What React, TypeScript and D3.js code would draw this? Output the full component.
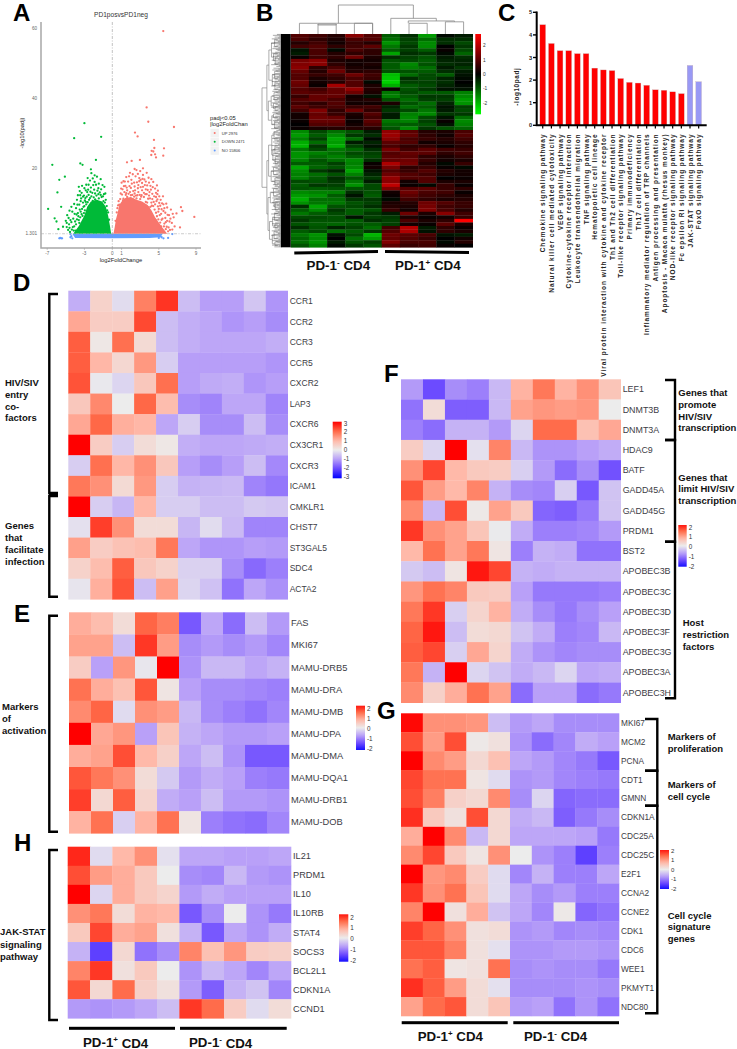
import React from "react";
import * as d3 from "d3";

const SANS = "'Liberation Sans', Arial, sans-serif";

// ---------- Panel A: volcano ----------
const volcanoXTicks = [-7, -3, 0, 1, 5, 9];
const volcanoYTicks = [60, 40, 20, 1.301];
const upEnvelope = [[0.12,1.3],[0.25,3],[0.4,5.5],[0.6,7.5],[0.75,9.5],[1,10.5],[1.4,11.5],[2,11.8],[2.6,11],[3.2,10.5],[3.8,9.5],[4.2,8],[4.6,6],[5,4.5],[5.4,3],[5.9,1.3]];
const downEnvelope = [[-0.12,1.3],[-0.25,3.5],[-0.45,6.5],[-0.7,9],[-1.1,10.5],[-1.7,11],[-2.3,10.5],[-2.7,9],[-3,6.5],[-3.3,5],[-3.6,3.5],[-4.2,1.3]];
const noEnvelope = [[-4.3,1.3],[-4,0.1],[0,0],[4,0.1],[5.2,0.3],[5.4,1.3]];
const upPoints = [[5.48,59.2],[3.69,37.4],[3.87,33.3],[6.63,31.8],[2.44,30.2],[2.72,29.1],[4.48,28.1],[4.52,25.8],[4.23,25],[4.41,24.8],[5.56,25.7],[4.6,24],[4.19,23.8],[5.48,23.6],[4.7,23.1],[2.97,22.4],[2.08,22.1],[1.58,21.7],[8.82,6.1],[7.28,3.1],[7.38,8.9],[7.53,7.8],[6.9,7.1],[6.6,6],[6.3,8.2],[6.1,6.6],[6.4,4.4],[6.7,3.4],[6.05,3.1],[5.9,5],[5.7,7.3],[5.5,9.7],[5.3,8.3],[5.1,6.6],[5.9,8.8],[5.2,11],[5.45,12],[4.9,13.6],[4.7,11.8],[4.6,9.7],[4.3,12.7],[4.1,15],[4.4,16.1],[3.9,17.3],[3.7,18.7],[3.3,20],[3.0,19.2],[2.6,19.5],[2.4,19.8],[2.2,18.3],[1.9,18.7],[1.5,17.5],[1.2,16.3],[1.0,15.9],[0.95,14.2],[1.4,15],[1.7,16.2],[2.05,16.7],[2.5,17.7],[2.9,17.2],[3.3,18.1],[3.6,16.2],[3.2,15.8],[2.8,15.2],[2.4,14.8],[2,14.4],[1.6,13.7],[1.3,13.2],[1.05,12.5],[0.85,11.2],[0.75,9.6],[1.2,11.3],[1.6,11.8],[2,12.3],[2.4,12.8],[2.8,13.2],[3.2,13.7],[3.6,14],[4,13.2],[4.35,14.6],[4.8,15.1],[3.85,11.3],[3.4,11.8],[3,11.2],[2.6,11.4],[2.2,11.1],[1.8,10.9],[4.2,10.2],[4.55,8.2],[4.9,9.1],[5.15,4.5],[5.4,5.6],[5.6,4.2],[5.75,2.6],[4.95,7.6],[4.35,6.2],[3.9,8.8],[3.6,10.4],[3.2,9.9],[2.9,16.3],[3.5,15.2],[1.85,14.9],[2.25,13.5],[2.65,16],[1.45,12.4],[3.95,15.9],[4.7,13],[5.05,10.1],[5.7,5.8],[6.2,2.4],[6.45,2.5],
[0.55,8.6],[0.68,10.6],[0.9,12.8],[1.1,14],[1.25,14.9],[1.5,12.9],[1.55,14.5],[1.75,12.7],[1.9,13.2],[2.1,15.6],[2.15,12.4],[2.35,15.9],[2.45,13.7],[2.55,12.2],[2.75,14.3],[2.7,12.3],[2.95,12.4],[3.05,14.6],[3.15,12.3],[3.3,14.7],[3.4,13],[3.45,16.8],[3.55,12.6],[3.75,15.1],[3.7,12.6],[3.8,13.8],[3.95,12.2],[4.05,11.4],[4.15,13.9],[4.2,16.9],[4.3,11.2],[4.45,10.4],[4.5,12],[4.6,14.2],[4.75,10.6],[4.4,9.2],[4.25,9.3],[4.7,7.3],[4.85,11.1],[4.8,6.3],[5,8.4],[5.05,12],[5.15,9.3],[5.25,7],[5.3,5.3],[5.35,10],[5.5,7.8],[5.55,3.4],[5.6,8.6],[5.75,4.6],[5.8,9.9],[5.85,3.3],[5.95,6.7],[6,2],[6.15,4.8],[6.25,5.6],[6.5,7],[5.25,3.4],[4.95,5.4],[4.65,5.2],[5.05,3.2],[4.1,9],[3.75,10.2],[2.35,11.9],[1.15,10.8],[3.1,11.9],[3.25,17],[4.85,12.6],[1.35,16.2],[1.8,17.7],[2.75,18.4],[3.05,16.7],[0.62,9.4],[0.48,7.4],[0.35,5]];
const downPoints = [[-6.9,8.4],[-6.45,21],[-5.7,16.7],[-5.1,17.6],[-5.9,13.1],[-5.5,9],[-3,32.9],[-4.1,28.6],[-1.2,29],[-3.44,21.4],[-3.2,21],[-1.76,22.4],[-2.3,19.7],[-6.2,5.7],[-6,4.8],[-5.8,2.6],[-5.3,3.3],[-4.4,9],[-4.6,7.9],[-3.8,11],[-5,5],[-4.9,3.2],[-4.6,3],[-4.4,4.6],[-4.7,5.8],[-4.2,5.6],[-4.05,7],[-3.9,8.6],[-3.7,7.2],[-3.55,9.6],[-3.4,7.6],[-3.35,11.4],[-3.7,12.3],[-3.5,13.5],[-3.6,14.7],[-3.25,15],[-3.3,13],[-3.05,12.2],[-3,14.3],[-2.9,11.5],[-2.8,15.3],[-2.7,13.2],[-2.65,17.2],[-2.4,16.5],[-2.25,18.6],[-2.1,17.1],[-2.05,15.2],[-2.3,14.5],[-2.55,12.4],[-2.4,11.5],[-2.15,13],[-1.9,18],[-1.65,17.6],[-1.45,15.6],[-1.75,15.3],[-1.95,13.9],[-1.6,13.6],[-1.35,13.1],[-1.15,11.8],[-1.05,15.2],[-0.85,14.7],[-1.25,16.9],[-0.7,11],[-0.95,10.6],[-1.45,11.4],[-1.85,11.1],[-2.1,10.7],[-3,9.2],[-3.2,6.4],[-3.55,4.4],[-3.9,4],[-4.25,3.2],[-4.15,2.2],[-4.55,1.8],[-3.95,2.2],[-4.9,4.4],[-4.1,9.8],[-2.65,10.3],[-2.8,9.7],[-3.15,10.2],[-1.65,10.7],[-0.6,9.2],
[-0.55,8],[-0.8,10.2],[-0.9,12.6],[-1,12],[-1.25,12.4],[-1.5,12.6],[-1.7,12.2],[-1.85,12.8],[-2,11.7],[-2.25,12],[-2.5,11],[-2.6,13.9],[-2.75,11.9],[-2.85,10.4],[-2.95,8],[-3.05,7.2],[-3.1,9],[-3.25,8.4],[-3.3,6.9],[-3.45,6],[-3.5,8.2],[-3.6,5.2],[-3.65,6.3],[-3.8,5.4],[-3.85,6.8],[-4,4.8],[-4.1,3.4],[-4.3,7.6],[-4.35,2.5],[-4.5,5.2],[-4.65,4],[-4.75,2.4],[-4.85,6.6],[-3.75,9.6],[-3.4,10.6],[-2.95,10.8],[-2.35,13.3],[-1.5,14.3],[-1.2,14],[-0.75,12.8],[-2.55,15.3],[-1.9,16.1],[-3.15,11.9],[-3.45,12.3],[-2.85,13.7],[-0.45,7.4],[-0.35,5.3]];
const noPoints = [[-5.7,0],[-5.5,0],[-5.4,0],[-5.6,0.1],[5,0.1],[5.3,0.3],[5.5,0],[6,0.1],[6.45,1.2],[-4.5,1.2],[-4.4,0.6],[-4.5,0.3],[-4.3,0]];
const volcanoLegend = [["UP 2976", "#f8766d"], ["DOWN 2471", "#00ba38"], ["NO 15806", "#619cff"]];

// ---------- Panel B: clustered heatmap ----------
const clusterUpRows = [
[.9,.7,.4,1.5,.9,-1,-.5,-1.7,-.1,-.3],[.8,.5,.3,.8,.9,-1.2,-.7,-1.2,-.5,-.5],[.4,.7,.2,.6,.4,-1.6,-.8,-1.5,-.5,-.8],[.7,.9,.5,.7,1,-1.3,-.6,-1.5,0,-.6],[-.2,.8,-.1,.8,.5,-1,-.7,-1,.1,-.8],[-.3,.8,.4,.5,.5,-1.8,-.5,-.6,-.1,-1.1],[.1,.7,.5,1.2,.3,-.5,-.7,-.9,-.3,-.5],[1.3,1.5,.3,.2,.2,-.9,-.8,-1,-.4,-.4],[1.4,1.5,.5,.2,.3,-1,-1.5,-.9,-.5,-.4],[1.5,.5,.8,.3,.2,-1,-1.4,-1.2,-.3,-.6],[1.1,.4,1.2,.4,.5,-.9,-.9,-1,-.5,-.3],[.9,.6,.7,1.2,.7,-2.1,-1.2,-.8,-1,-.2],[.9,.3,.5,.8,.6,-2.2,-.5,-.8,-.4,-.1],[1.2,.2,.4,.9,-.1,-2.3,-.7,-.7,-.5,0],[1.1,.1,1.8,.9,.3,-1.9,-1,-.8,-.4,-.1],[.9,.7,1.1,1.6,.4,.1,-.9,-.6,-.2,-.2],[1,.9,1.1,1.2,.3,-1.3,-.8,-1,-1,-1.4],[.6,1.1,1.1,.2,-.2,-1.4,-1,-.6,-.6,-1.5],[.9,1.1,.8,.3,.4,-.9,-1.2,-.7,-.7,-1.7],[.7,.5,.9,.2,.2,.3,-.9,-1.2,-.4,-1.6],[1,.7,.8,.6,.7,-.4,-1.2,-1,-.2,-.7],[.7,1.4,.5,1.2,.5,-.6,-.8,-1.3,-.3,-.8],[.2,1.1,.6,.3,.9,-.3,-1.4,-1.5,-.6,-.6],[.2,1.2,1.1,.2,.7,-.3,-1.5,-.8,-.2,-1.2],[.1,1.1,1.1,.1,1,-1.3,-1.4,-.7,.1,-1.5],[0,.9,.9,.2,.8,-1.1,-1,-.9,-.2,-1.4],[.1,.3,.4,.4,.4,-.9,-1.5,-.6,-.9,-1.1]];
const clusterDownRows = [
[-1.5,-.8,-1.2,-.9,-.3,1.6,1,.4,.3,.8],[-1.7,-1,-1.5,-.6,-.5,1.7,1.1,.5,.2,.9],[-1.4,-.7,-1.8,-1.2,-.1,1.5,.8,.6,.4,.7],[-1.9,-1.2,-1.7,-.3,-.4,1,.9,.2,.3,.5],[-2,-.6,-1.9,-.7,-.2,.8,.5,.5,.1,.4],[-1.3,-.8,-1.3,-1.1,-.5,1.3,.7,1,.7,.6],[-1.6,-1.4,-1.2,-.8,-.7,.9,1.1,1,.5,.7],[-1.6,-1.2,-1.4,-1,-.8,1,1,.5,.3,.5],[-1.4,-.9,-1.2,-1.5,-.5,1.1,1.2,.6,.2,.3],[-1,-1,-.7,-1.4,.1,1.9,1.3,.4,-.1,.6],[-1.8,-1.1,-.9,-1.5,.2,1.3,.5,.6,.1,-.1],[-1.5,-.6,-.4,-1.8,-.2,.9,.6,.9,.4,.2],[-1.4,-1.2,-.9,-1.4,-.4,1.2,.9,.7,.3,.2],[-1.4,-1,-.5,-.9,-.6,1.6,.9,.9,0,.1],[-.8,-.9,-.6,-1.3,-.3,1.5,.2,.9,.3,.3],[-1,-.6,-.7,-1.6,-.8,2.1,.1,-.1,.6,.1],[-.9,-1,-.9,-.9,-.8,1.4,.9,1,.6,.5],[-1.5,-1.4,-1.4,-.5,-.9,.2,1.2,.8,.7,.1],[-1.7,-1.6,-1,-.2,-1,.1,1,.7,.5,.3],[-1.9,-1.2,-1.2,-.6,-.6,-.1,.7,.5,.3,.4],[-1.6,-1.3,-1.3,-.9,-.7,.3,.4,1.2,.9,.6],[-.5,-1.8,-.9,-.8,-.5,.4,.3,1.3,.7,.6],[-1,-1.5,-.6,-1,-.9,.6,.2,1.4,.8,.4],[-1.3,-1,-.8,-1,-.6,-.3,1.2,.3,1.5,.7],[-.8,-.8,-.9,-.2,-.7,-.6,.3,.1,.2,.6],[-.6,-.9,-.9,-1,-.5,-.7,.8,.3,.5,2.8],[-.9,-1,-1.1,-.9,-1,-.7,.2,.1,1,.3],[-.5,-.9,-.4,-.7,-1.2,.7,2,-.3,.5,.1],[-1,-.8,-1.2,-1,-.6,.9,1.9,-.2,.5,.3],[-1.3,-1.6,-.2,-.8,-2,1.2,1,.8,-.2,-.3],[-1.1,-1.5,0,-1.2,-1.7,1.1,.9,.6,0,.2],[-1.2,-1.6,-.3,-.9,-.7,1.4,.8,.8,-.1,.4],[-.9,-1.4,-.1,-.6,-.9,1,.6,.7,.1,0]];
const clusterTicks = [2, 1, 0, -1, -2];
// [left column, right column, height, left child height, right child height]
const columnMerges = [[2.62,6.74,1,.37,.54],[.48,4.5,.37,0,0],[1.5,2.5,.34,0,0],[3.5,4.5,.37,0,0],[1.5,2.5,.31,.34,.34],[5.5,8,.54,0,.45],[6.46,9,.45,.37,.42],[6.5,7.5,.37,0,0],[8.5,9.5,.42,0,0]];
// nested row tree: [depth, ...children]; a bare number is a row
const rowTree: any = [0,
  [.17,
    [.24,[.33,[.44,1,3],[.4,5,[.46,6,8]]],[.36,[.44,10,12],[.45,13,15]]],
    [.22,[.32,[.42,16,18],[.4,19,[.46,20,21]]],[.34,[.4,22,23],[.44,24,26]]]],
  [.17,
    [.23,[.34,[.42,27,29],[.38,[.45,31,33],[.46,34,36]]],[.32,[.4,37,39],[.45,40,42]]],
    [.21,[.29,[.4,43,45],[.42,46,[.46,47,49]]],[.26,[.37,[.44,50,52],[.45,53,54]],[.36,[.42,55,57],[.45,58,59]]]]]];
const leafDepths = [.52,.38,.6,.44,.56,.34,.61,.47,.55,.42,.32,.58,.5,.63,.4,.57,.36,.48,.54,.62,.46,.35,.59,.43];

// ---------- Panel C: bars ----------
const pathwayNames = ["Chemokine signaling pathway","Natural killer cell mediated cytotoxicity","VEGF signaling pathway","Cytokine-cytokine receptor interaction","Leukocyte transendothelial migration","TNF signaling pathway","Hematopoietic cell lineage","Viral protein interaction with cytokine and cytokine receptor","Th1 and Th2 cell differentiation","Toll-like receptor signaling pathway","Primary immunodeficiency","Th17 cell differentiation","Inflammatory mediator regulation of TRP channels","Antigen processing and presentation","Apoptosis - Macaca mulatta (rhesus monkey)","NOD-like receptor signaling pathway","Fc epsilon RI signaling pathway","JAK-STAT signaling pathway","FoxO signaling pathway"];
const pathwayValues = [4.45,3.62,3.3,3.3,3.17,3.17,2.53,2.45,2.42,2.07,1.9,1.87,1.77,1.57,1.55,1.48,1.4,2.65,1.93];
const pathwayIsDown = [0,0,0,0,0,0,0,0,0,0,0,0,0,0,0,0,0,1,1];
const pathwayTicks = [0,1,2,3,4,5];

// ---------- Gene heatmaps ----------
const genesD = ["CCR1","CCR2","CCR3","CCR5","CXCR2","LAP3","CXCR6","CX3CR1","CXCR3","ICAM1","CMKLR1","CHST7","ST3GAL5","SDC4","ACTA2"];
const valuesD = [
[-.8,.5,-.2,1.7,2.5,-.6,-1,-1,-.5,-1.1],[1.2,.6,.6,2.3,-.6,-.8,-.9,-1.1,-1,-1.2],[2.1,.1,1.9,.35,-.6,-.8,-.9,-.9,-.9,-.8],[2.1,1,.4,1.4,-.4,-1,-1,-1,-1,-1.1],[2.2,-.05,-.3,.7,1.9,-1,-.85,-.8,-1.1,-1],[.7,1.6,0,2,.9,-1.2,-1.3,-.9,-.9,-1.3],[1.2,2,1.1,1,-.9,-.4,-1.2,-1.2,-.6,-1.2],[3,.6,-.4,.3,.1,-.8,-.9,-.9,-.85,-.8],[-.4,1.9,1,1.5,.7,-1,-1.2,-1,-.6,-1.25],[1.8,1.5,.35,1.4,-.4,-.75,-.7,-.65,-1.3,-1.45],[3,-.4,-.7,1,-.4,-.4,-.6,-.6,-.45,-.5],[-.15,2.4,1.5,.3,.3,-.7,-.2,-.65,-1.3,-1.3],[1.3,.6,.8,.9,1.8,-.9,-1.1,-1.1,-1,-1.05],[.5,.9,2.1,.7,.5,-.35,-.35,-1.2,-1.6,-1.35],[-.1,1.1,2.2,-.6,1.3,-.3,-.55,-1.5,-.9,-1.15]];
const genesE = ["FAS","MKI67","MAMU-DRB5","MAMU-DRA","MAMU-DMB","MAMU-DPA","MAMU-DMA","MAMU-DQA1","MAMU-DRB1","MAMU-DOB"];
const valuesE = [
[.75,.6,.2,1.35,1.15,-1.2,-.6,-1.05,-.4,-.7],[.85,.85,-.4,1.65,.9,-.8,-.7,-.8,-.7,-.85],[.4,-.65,.95,-.05,2,-.75,-.45,-.45,-.6,-.5],[1.25,.75,.55,1.45,.1,-.65,-.8,-.8,-.85,-.9],[1.05,1.35,-.15,1,.9,-.45,-.8,-.9,-1,-.85],[2,.8,.95,-.65,.5,-.5,-.6,-.7,-.7,-.65],[.75,.85,1.5,.65,.35,-.6,-.4,-.75,-1.2,-1.2],[1.45,1.2,1,.2,-.3,-.7,-.55,-.65,-.9,-.95],[1.6,.25,1.4,.3,-.55,-.65,-.4,-.7,-.7,-.75],[.7,1.25,-.25,.7,1.25,.1,-.9,-1,-1.05,-.85]];
const genesH = ["IL21","PRDM1","IL10","IL10RB","STAT4","SOCS3","BCL2L1","CDKN1A","CCND1"];
const valuesH = [
[1.75,-.15,.65,1,-.1,-.6,-.6,-.65,-.65,-.6],[1.5,.9,.75,.45,0,-.8,-.85,-.45,-.7,-.75],[2,-.2,.75,.45,.3,-.7,-.55,-.65,-.65,-.65],[1,1.2,.2,.7,.65,-1.2,-.8,0,-.75,-.95],[.45,1.55,.75,.85,.15,-.5,-1.2,-.6,-.75,-.55],[-.5,-1.4,.25,-1,-.8,1.1,.55,.95,.4,.35],[1.1,1.65,.15,.45,0,-.75,-.45,-.6,-.85,-.6],[1.45,.25,1.3,.35,.15,-.7,-1.15,-.5,-.35,-.85],[-.7,-.75,-.7,-.6,-.4,1.65,1.3,.4,-.15,.2]];
const genesF = ["LEF1","DNMT3B","DNMT3A","HDAC9","BATF","GADD45A","GADD45G","PRDM1","BST2","APOBEC3B","APOBEC3C","APOBEC3D","APOBEC3F","APOBEC3G","APOBEC3A","APOBEC3H"];
const valuesF = [
[-.7,-1.3,-.8,-.9,-.45,.7,1.2,.7,1,.5],[-1,.2,-1.15,-1.15,-.45,.85,.95,.9,.95,0],[-.9,-1.05,-.5,-.5,-.7,-.2,1.3,1.3,.55,.8],[.4,-.2,2,-.1,1.1,-.45,-.75,-.75,-.65,-.55],[1,1.55,.65,.45,.4,-.25,-.7,-1.05,-.8,-1.25],[1.45,.9,.65,1.1,-.5,-.8,-.85,-.25,-1.2,-.35],[1.05,-.45,1.5,.05,.85,.45,-1.1,-1.15,-.95,-.35],[1.65,1,.85,.5,-.02,-.55,-.9,-.9,-.85,-.7],[.65,1.25,.85,1.2,.1,-.9,-.5,-.55,-1,-1],[-.3,-.4,.1,1.85,1.55,-.5,-.55,-.5,-.5,-.5],[.95,1.25,1.1,.45,.4,-.65,-.95,-.95,-.95,-.9],[1.2,1.65,-.25,.3,.7,-.55,-.8,-.95,-.8,-.65],[1.35,1.85,-.4,.2,.25,-.35,-.55,-.9,-.85,-.45],[1.4,1.55,-.25,.8,.3,-.55,-.75,-.85,-.8,-.8],[1.2,-.5,2,-.2,-.35,-.55,-.45,-.2,-.6,-.55],[1.05,.35,.75,1.25,.85,-1.05,-.65,-.65,-1.05,-.95]];
const genesG = ["MKI67","MCM2","PCNA","CDT1","GMNN","CDKN1A","CDC25A","CDC25C","E2F1","CCNA2","CCNE2","CDK1","CDC6","WEE1","PKMYT1","NDC80"];
const valuesG = [
[1.95,1,1,.95,-.4,-.7,-.6,-.8,-.8,-.8],[1.5,.9,1.5,.05,.15,-.75,-1.05,-.85,-.55,-.65],[2,1.05,.9,.25,.55,-.6,-.7,-.85,-.95,-1.2],[1.55,1.25,1.25,.1,-.15,-.75,-.7,-.85,-.9,-.95],[1.5,1.15,.35,.25,1.05,-.8,-.2,-1.1,-1.05,-1.05],[1.7,.45,.15,1.5,.25,-.55,-.45,-1.15,-.95,-.8],[.75,2,1.05,-.45,.25,-.6,-.6,-.6,-.65,-.95],[1.05,1.55,.45,.1,1,0,-.75,-.9,-1.4,-.9],[2,.95,1.05,.4,-.15,-.85,-.5,-.9,-.9,-.6],[1.65,1,1.25,.5,-.15,-.6,-.8,-.7,-.9,-.9],[1.1,2,.15,.75,-.35,-.6,-.85,.05,-1.1,-1],[1.6,1.35,1,.15,.2,-.75,-.7,-.85,-.8,-.85],[1.45,1.45,1.15,.15,-.1,-.75,-.75,-.7,-.7,-.75],[1.25,1.4,.1,.15,1.25,-.8,-.75,-.8,-.8,-.95],[1.7,1.4,.9,.2,-.1,-.8,-.8,-.8,-.75,-.8],[.85,1.3,1.45,.2,.5,-.7,-.65,-1,-.75,-1]];
const columns = d3.range(10);

const ramp = d3.scaleLinear<string>()
  .domain([-1, -.66, -.33, 0, .33, .66, 1])
  .range(["#0000ff", "#6a48ff", "#b89ff8", "#ececec", "#ffb8a8", "#ff6a48", "#ff0000"])
  .clamp(true);
const greenRed = d3.scaleLinear<string>().domain([-2.8, 0, 2.8]).range(["#00ff00", "#000000", "#ff0000"]).clamp(true);

function t(x: number, y: number, s: string, o: any = {}) {
  return <text x={x} y={y} fontFamily={SANS} dominantBaseline="central" {...o}>{s}</text>;
}

function GeneHeat({ genes, values, box, font, labelDx = 2, range }: any) {
  const [x0, x1, y0, y1] = box;
  const xs = d3.scaleBand<number>().domain(columns).range([x0, x1]);
  const ys = d3.scaleBand<string>().domain(genes).range([y0, y1]);
  return (
    <g>
      {genes.map((g: string, r: number) => (
        <g key={g}>
          {columns.map((c) => (
            <rect key={c} x={xs(c)} y={ys(g)} width={xs.bandwidth() + .3} height={ys.bandwidth() + .3} fill={ramp(values[r][c] / range)} />
          ))}
          {t(x1 + labelDx, ys(g)! + ys.bandwidth() / 2, g, { fontSize: font, fill: "#3c3c44" })}
        </g>
      ))}
    </g>
  );
}

function ColorBar({ id, box, ticks, color, domain, tickRange, font = 6.3, labelDx = 2 }: any) {
  const [x0, x1, y0, y1] = box;
  const sc = d3.scaleLinear().domain(domain).range([y0, y1]);
  const tick = d3.scaleLinear().domain(tickRange[0]).range(tickRange[1]);
  const stops = d3.range(0, 1.001, .05);
  return (
    <g>
      <defs>
        <linearGradient id={id} x1="0" y1="0" x2="0" y2="1">
          {stops.map((s) => <stop key={s} offset={s} stopColor={color(domain[0] + (domain[1] - domain[0]) * s)} />)}
        </linearGradient>
      </defs>
      <rect x={x0} y={sc(domain[0])} width={x1 - x0} height={sc(domain[1]) - sc(domain[0])} fill={`url(#${id})`} />
      {ticks.map((v: number) => <g key={v}>{t(x1 + labelDx, tick(v), String(v), { fontSize: font, fill: "#333" })}</g>)}
    </g>
  );
}

function Bracket({ x0, x1, y0, y1, side = "left" }: any) {
  const d = side === "left" ? `M${x1},${y0}H${x0}V${y1}H${x1}` : `M${x0},${y0}H${x1}V${y1}H${x0}`;
  return <path d={d} fill="none" stroke="#000" strokeWidth={2.4} />;
}

function Lines({ lines, x, y, size = 9.5, weight = "bold" }: any) {
  return <g>{lines.map((s: string, i: number) => <g key={i}>{t(x, y[i], s, { fontSize: size, fontWeight: weight, fill: "#111" })}</g>)}</g>;
}

function PDLabel({ x, y, sign, size = 13.3 }: any) {
  return (
    <text x={x} y={y} fontFamily={SANS} fontSize={size} fontWeight="bold" dominantBaseline="central" fill="#111">
      PD-1<tspan dy={-3.5} fontSize={size * .6}>{sign}</tspan><tspan dy={3.5}> CD4</tspan>
    </text>
  );
}

function Volcano() {
  const xs = d3.scaleLinear().domain([0, 9]).range([112.3, 196]);
  const ys = d3.scaleLinear().domain([0, 60]).range([238.3, 28.3]);
  const line = d3.line<number[]>().x((d) => xs(d[0])).y((d) => ys(d[1]));
  const dots = (pts: number[][], c: string) => pts.map((p, i) => <circle key={i} cx={xs(p[0])} cy={ys(p[1])} r={1.15} fill={c} />);
  return (
    <g>
      <path d={`M41,22V248H201`} fill="none" stroke="#a8a8a8" strokeWidth={1.5} />
      <path d={line(noEnvelope)! + "Z"} fill="#619cff" />
      {dots(noPoints, "#619cff")}
      <path d={line(upEnvelope)! + "Z"} fill="#f8766d" />
      <path d={line(downEnvelope)! + "Z"} fill="#00ba38" />
      {dots(upPoints, "#f8766d")}
      {dots(downPoints, "#00ba38")}
      <line x1={xs(0)} x2={xs(0)} y1={22} y2={248} stroke="#999" strokeWidth={.6} strokeDasharray="3 1.5 1 1.5" />
      <line x1={41} x2={201} y1={ys(1.301)} y2={ys(1.301)} stroke="#aaa" strokeWidth={.6} strokeDasharray="3 1.5 1 1.5" />
      {volcanoXTicks.map((v) => <g key={v}>{t(xs(v), 253.3, String(v), { fontSize: 4.6, textAnchor: "middle", fill: "#666" })}<line x1={xs(v)} x2={xs(v)} y1={248} y2={250} stroke="#999" strokeWidth={.5} /></g>)}
      {volcanoYTicks.map((v) => <g key={v}>{t(37, ys(v), String(v), { fontSize: 4.6, textAnchor: "end", fill: "#666" })}</g>)}
      {t(121, 14.7, "PD1posvsPD1neg", { fontSize: 6.6, textAnchor: "middle", fill: "#333" })}
      {t(121, 259.5, "log2FoldChange", { fontSize: 5.8, textAnchor: "middle", fill: "#222" })}
      <text transform="translate(21.5,133) rotate(-90)" fontFamily={SANS} fontSize={5.8} textAnchor="middle" dominantBaseline="central" fill="#222">-log10(padj)</text>
      {t(210, 117.5, "padj<0.05", { fontSize: 5.8, fill: "#222" })}
      {t(210, 124, "|log2FoldChan", { fontSize: 5.8, fill: "#222" })}
      {volcanoLegend.map(([s, c], i) => {
        const y = 133 + i * 8.8;
        return (
          <g key={s}>
            <rect x={210.5} y={y - 4.2} width={8.4} height={8.4} fill="#f2f2f2" />
            <circle cx={214.7} cy={y} r={1} fill={c} />
            {t(221.7, y, s, { fontSize: 4.1, fill: "#333" })}
          </g>
        );
      })}
    </g>
  );
}

function ClusterHeat() {
  const rows = [...clusterUpRows, ...clusterDownRows];
  const xs = d3.scaleLinear().domain([0, 10]).range([290.7, 472.7]);
  const ys = d3.scaleLinear().domain([0, rows.length]).range([34, 247.3]);
  const dx = d3.scaleLinear().domain([0, 1]).range([262, 290.7]);
  const hy = d3.scaleLinear().domain([0, 1]).range([34, 5]);
  const segments: number[][] = [];
  const walk = (n: any): number => {
    if (typeof n === "number") return n + .5;
    const [depth, ...kids] = n;
    const pos = kids.map((k: any) => {
      const y = walk(k);
      const kd = typeof k === "number" ? .55 : k[0];
      segments.push([depth, y, kd, y]);
      return y;
    });
    segments.push([depth, pos[0], depth, pos[pos.length - 1]]);
    return d3.mean(pos)!;
  };
  walk(rowTree);
  const leaves = d3.range(0, rows.length, .25);
  return (
    <g>
      {rows.map((r, i) => columns.map((c) => (
        <rect key={i + "-" + c} x={xs(c)} y={ys(i)} width={xs(1) - xs(0) + .3} height={ys(1) - ys(0) + .3} fill={greenRed(r[c])} />
      )))}
      {segments.map((s, i) => <line key={i} x1={dx(s[0])} y1={ys(s[1])} x2={dx(s[2])} y2={ys(s[3])} stroke="#8a8a8a" strokeWidth={.7} />)}
      {leaves.map((r, i) => <line key={i} x1={dx(leafDepths[i % leafDepths.length])} x2={dx(.7)} y1={ys(r + .125)} y2={ys(r + .125)} stroke="#444" strokeWidth={.45} />)}
      <rect x={dx(.66)} y={ys(0)} width={dx(1) - dx(.66)} height={ys(rows.length) - ys(0)} fill="#000" />
      {columnMerges.map(([a, b, h, hl, hr], i) => (
        <path key={i} d={`M${xs(a)},${hy(hl)}V${hy(h)}H${xs(b)}V${hy(hr)}`} fill="none" stroke="#8a8a8a" strokeWidth={.8} />
      ))}
      <ColorBar id="grad-b" box={[475.3, 481, 34, 114.3]} ticks={clusterTicks} color={greenRed} domain={[2.8, -2.8]} tickRange={[[2, -2], [45.7, 103.3]]} font={4.8} />
      <path d="M294.3,253L378,251.5" stroke="#000" strokeWidth={3} />
      <path d="M385,251.5L469,252.5" stroke="#000" strokeWidth={3} />
      <PDLabel x={306.5} y={265} sign="-" size={13.4} />
      <PDLabel x={395} y={265} sign="+" size={13.4} />
    </g>
  );
}

function Bars() {
  const xs = d3.scaleBand<number>().domain(d3.range(pathwayValues.length)).range([538.4, 703]).paddingInner(.34).paddingOuter(.17);
  const ys = d3.scaleLinear().domain([0, 5]).range([125.3, 12.3]);
  return (
    <g>
      {pathwayValues.map((v, i) => (
        <rect key={i} x={xs(i)} y={ys(v)} width={xs.bandwidth()} height={ys(0) - ys(v)} fill={pathwayIsDown[i] ? "#9999f5" : "#ff0000"} stroke="#c8b0b0" strokeWidth={.3} />
      ))}
      <path d="M536.7,11.5V125.3H706.7" fill="none" stroke="#000" strokeWidth={2} />
      {pathwayTicks.map((v) => <g key={v}>
        <line x1={533} x2={536.7} y1={ys(v)} y2={ys(v)} stroke="#000" strokeWidth={1.4} />
        {t(532, ys(v), String(v), { fontSize: 5.6, fontWeight: "bold", textAnchor: "end", fill: "#222" })}
      </g>)}
      {pathwayNames.map((n, i) => <g key={n}>
        <line x1={xs(i)! + xs.bandwidth() / 2} x2={xs(i)! + xs.bandwidth() / 2} y1={125.3} y2={128.5} stroke="#000" strokeWidth={1.2} />
        <text transform={`translate(${xs(i)! + xs.bandwidth() / 2},133.5) rotate(-90)`} fontFamily={SANS} fontSize={6.5} fontWeight="bold" letterSpacing={.95} textAnchor="end" dominantBaseline="central" fill="#222">{n}</text>
      </g>)}
      <text transform="translate(516,86.7) rotate(-90)" fontFamily={SANS} fontSize={6.4} fontWeight="bold" letterSpacing={.6} textAnchor="middle" dominantBaseline="central" fill="#222">-log10padj</text>
    </g>
  );
}

const panelLetters = [["A",13,12],["B",256,12.5],["C",498,12],["D",13,282],["E",14,613.5],["H",14,842],["F",384,373.5],["G",377,710]] as const;
const t2 = [2,1,0,-1,-2];
const t3 = [3,2,1,0,-1,-2,-3];

export default function App() {
  return (
    <svg width={737} height={1049} viewBox="0 0 737 1049" style={{ position: "absolute", left: 0, top: 0, display: "block", background: "#fff" }}>
      <Volcano />
      <ClusterHeat />
      <Bars />

      <GeneHeat genes={genesD} values={valuesD} box={[68.3, 287.7, 290.7, 599.3]} font={8.5} range={3} />
      <GeneHeat genes={genesE} values={valuesE} box={[69, 289, 612.3, 833.3]} font={9.3} range={2} />
      <GeneHeat genes={genesH} values={valuesH} box={[67.7, 291, 846.7, 1018.3]} font={9.2} range={2} />
      <GeneHeat genes={genesF} values={valuesF} box={[401, 620.7, 379.3, 702.7]} font={8.9} range={2} />
      <GeneHeat genes={genesG} values={valuesG} box={[401, 619, 713.3, 1016]} font={8.3} range={2} />

      <ColorBar id="grad-d" box={[332.7, 341.7, 421.7, 478.3]} ticks={t3} color={(v: number) => ramp(v / 3)} domain={[3, -3]} tickRange={[[3, -3], [423, 476.7]]} />
      <ColorBar id="grad-e" box={[356, 365, 705.7, 750]} ticks={t2} color={(v: number) => ramp(v / 2.25)} domain={[2.1, -2.1]} tickRange={[[2, -2], [708, 748]]} />
      <ColorBar id="grad-h" box={[339, 348.3, 914.3, 961.7]} ticks={t2} color={(v: number) => ramp(v / 2.25)} domain={[2.1, -2.1]} tickRange={[[2, -2], [917.3, 960]]} />
      <ColorBar id="grad-f" box={[678.3, 686.7, 525, 566.7]} ticks={t2} color={(v: number) => ramp(v / 2.25)} domain={[2.1, -2.1]} tickRange={[[2, -2], [527, 566]]} />
      <ColorBar id="grad-g" box={[660, 669, 850, 889]} ticks={t2} color={(v: number) => ramp(v / 2.25)} domain={[2.1, -2.1]} tickRange={[[2, -2], [851, 888.5]]} font={6} />

      <Bracket x0={49.3} x1={58} y0={294} y1={493} />
      <Bracket x0={49.3} x1={58} y0={496} y1={596.7} />
      <rect x={49} y={492} width={9} height={5} fill="#000" />
      <Bracket x0={49.3} x1={58} y0={615.7} y1={831.7} />
      <Bracket x0={49.3} x1={58} y0={850} y1={1020} />
      <Bracket x0={665} x1={675} y0={380} y1={440} side="right" />
      <Bracket x0={665} x1={675} y0={440} y1={541.7} side="right" />
      <Bracket x0={665} x1={675} y0={541.7} y1={698.3} side="right" />
      <Bracket x0={645} x1={657.3} y0={719} y1={770.7} side="right" />
      <Bracket x0={645} x1={657.3} y0={770.7} y1={805.7} side="right" />
      <Bracket x0={645} x1={657.3} y0={805.7} y1={1013.3} side="right" />

      <Lines lines={["HIV/SIV","entry","co-","factors"]} x={5} y={[382,394,406,417.7]} />
      <Lines lines={["Genes","that","facilitate","infection"]} x={5} y={[525.7,537.7,549.7,561]} />
      <Lines lines={["Markers","of","activation"]} x={2} y={[706.7,718.7,730.3]} />
      <Lines lines={["JAK-STAT","signaling","pathway"]} x={0} y={[931.7,944,956]} />
      <Lines lines={["Genes that","promote","HIV/SIV","transcription"]} x={678.3} y={[392.3,404.3,416,427.7]} />
      <Lines lines={["Genes that","limit HIV/SIV","transcription"]} x={678.3} y={[477.3,488.7,500.7]} />
      <Lines lines={["Host","restriction","factors"]} x={682.7} y={[622,634,646]} />
      <Lines lines={["Markers of","proliferation"]} x={667.7} y={[736.7,748.7]} />
      <Lines lines={["Markers of","cell cycle"]} x={667.7} y={[784.3,796.3]} />
      <Lines lines={["Cell cycle","signature","genes"]} x={667.7} y={[915,926.7,938.7]} />

      <rect x={69} y={1026.8} width={106} height={3} fill="#000" />
      <rect x={180} y={1026.8} width={106.7} height={3} fill="#000" />
      <PDLabel x={83} y={1042.7} sign="+" />
      <PDLabel x={189} y={1042.7} sign="-" />
      <rect x={401.7} y={1021.2} width={106} height={3} fill="#000" />
      <rect x={513.3} y={1021.2} width={105.7} height={3} fill="#000" />
      <PDLabel x={417.7} y={1036} sign="+" />
      <PDLabel x={524} y={1036} sign="-" />

      {panelLetters.map(([s, x, y]) => <g key={s}>{t(x, y, s, { fontSize: 24, fontWeight: "bold", fill: "#000" })}</g>)}
    </svg>
  );
}
